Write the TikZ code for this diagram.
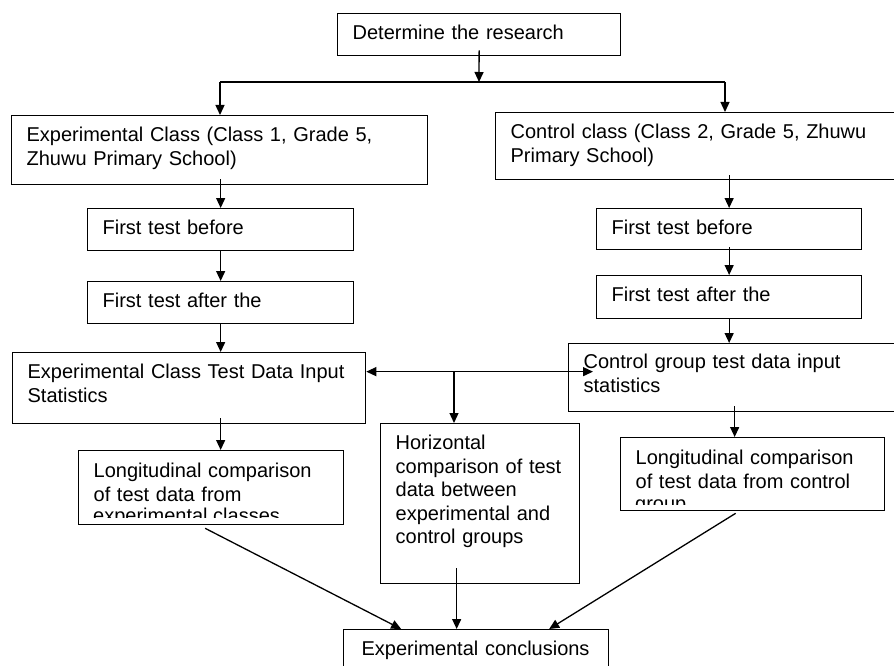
\documentclass[tikz,border=0pt]{standalone}
\usepackage{fontspec}
\setmainfont{Liberation Sans}
\usetikzlibrary{arrows.meta}
\tikzstyle{box} = [rectangle, 
draw=black, 
line width=1.3pt,
anchor=north west,
inner xsep=15pt,
inner ysep=0pt,
align=left,
text height=26pt,
font=\fontsize{20}{23.5}\selectfont]
\tikzstyle{cut} = [anchor=base west, 
inner sep=0pt, 
font=\fontsize{20}{23.5}\selectfont]
\tikzstyle{line} = [line width=1.3pt]
\tikzstyle{arrow} = [line width=1.3pt,-{Triangle[width=9pt,length=10pt]}]
\tikzstyle{darrow} = [line width=1.3pt,{Triangle[width=9pt,length=10pt]}-{Triangle[width=9pt,length=10pt]}]

\begin{document}
\begin{tikzpicture}[x=1pt, y=-1pt]
		\clip (0,0) rectangle (894,666);
		
		\node (top) [box, text width=253pt, text depth=16pt] at (337,13) {Determine the research};
		
		% experimental side
		\node (exp) [box, text width=386pt, text depth=43pt] at (11,115) {Experimental Class (Class 1, Grade 5,\\Zhuwu Primary School)};
		\node (exp1) [box, text width=236pt, text depth=16pt] at (87,208) {First test before};
		\node (exp2) [box, text width=236pt, text depth=16pt] at (87,281) {First test after the};
		\node (exps) [box, text width=323pt, text depth=45pt] at (12,352) {Experimental Class Test Data Input\\Statistics};
		\node (lce) [box, text width=235pt, text height=27pt, text depth=47pt] at (78,450) {Longitudinal comparison\\of test data from};
		
		% control side
		\node (ctl) [box, text width=375pt, text depth=41pt] at (495,112) {Control class (Class 2, Grade 5, Zhuwu\\Primary School)};
		\node (ctl1) [box, text width=235pt, text depth=15pt] at (596,208) {First test before};
		\node (ctl2) [box, text width=235pt, text depth=17pt] at (596,275) {First test after the};
		\node (ctls) [box, text width=302pt, text height=25pt, text depth=43pt] at (568,343) {Control group test data input\\statistics};
		\node (lcc) [box, text width=234pt, text height=27pt, text depth=46pt] at (620,437) {Longitudinal comparison\\of test data from control};
		
		\node (hcmp) [box, text width=169pt, text depth=134pt] at (380,423) {Horizontal\\comparison of test\\data between\\experimental and\\control groups};
		\node (concl) [box, inner xsep=18pt, text width=229pt, text depth=35pt] at (343,629) {Experimental conclusions};
		
		% last lines cut off by the boxes
		\begin{scope}
			\clip (lce.north west) rectangle ([yshift=8pt]lce.south east);
			\node (lce-cut) [cut] at ([xshift=15pt,yshift=-72pt]lce.north west) {experimental classes};
		\end{scope}
		\begin{scope}
			\clip (lcc.north west) rectangle ([yshift=7pt]lcc.south east);
			\node (lcc-cut) [cut] at ([xshift=15pt,yshift=-73pt]lcc.north west) {group};
		\end{scope}
		
		\coordinate (split) at (479,82);
		\coordinate (splitL) at (220,82);
		\coordinate (splitR) at (725,82);
		\coordinate (hsplit) at (454,371);
		
		\draw [arrow] ([yshift=6pt]top.south) -- (split);
		\draw [line] (splitL) -- (splitR);
		\draw [arrow] (splitL) -- (splitL |- exp.north);
		\draw [arrow] (splitR) -- (splitR |- ctl.north);
		
		\draw [arrow] ([yshift=6pt]exp.south -| exp1.north) -- (exp1.north);
		\draw [arrow] (exp1.south) -- (exp2.north);
		\draw [arrow] (exp2.south) -- (exp2.south |- exps.north);
		\draw [arrow] ([yshift=6pt]exps.south -| exp2.south) -- (exp2.south |- lce.north);
		
		\draw [arrow] ([yshift=5pt]ctl1.north |- ctl.south) -- (ctl1.north);
		\draw [arrow] ([yshift=3pt]ctl1.south) -- (ctl2.north);
		\draw [arrow] (ctl2.south) -- (ctl2.south |- ctls.north);
		\draw [arrow] ([yshift=6pt]ctls.south) -- (ctls.south |- lcc.north);
		
		\draw [darrow] ([yshift=16.5pt]exps.east) -- ([xshift=25pt,yshift=6pt]ctls.west);
		\draw [arrow] (hsplit) -- (hsplit |- hcmp.north);
		
		\draw [arrow] ([xshift=-6pt,yshift=-3pt]lce.south) -- ([xshift=-75pt]concl.north);
		\draw [arrow] ([xshift=-23.5pt,yshift=16pt]hcmp.south) -- ([xshift=-19.5pt]concl.north);
		\draw [arrow] ([xshift=-17pt,yshift=-2pt]lcc.south) -- ([xshift=73pt]concl.north);
		
	\end{tikzpicture}
\end{document}
